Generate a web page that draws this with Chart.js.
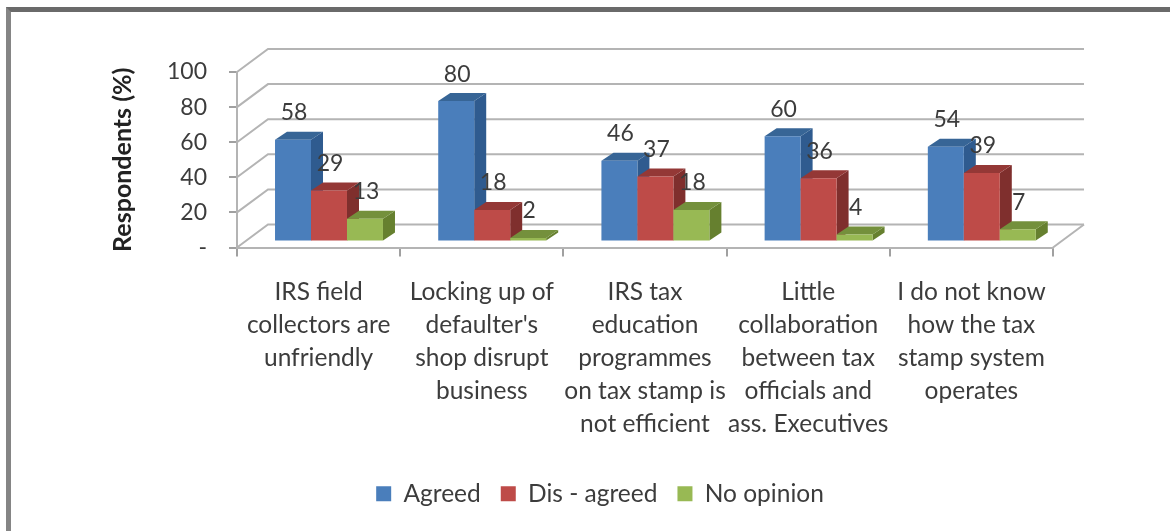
<!DOCTYPE html>
<html>
<head>
<meta charset="utf-8">
<style>
html,body{margin:0;padding:0;background:#fff;overflow:hidden}
#wrap{position:relative;width:1170px;height:531px}
#frame{position:absolute;left:6px;top:7px;right:-10px;bottom:-10px;border-top:5px solid #6a6a6a;border-left:5px solid #858585}
canvas{position:absolute;left:0;top:0;filter:blur(0.6px)}
</style>
<script src="https://cdn.jsdelivr.net/npm/chart.js@4"></script>
</head>
<body>
<div id="wrap"><div id="frame"></div><canvas id="c" width="1170" height="531"></canvas></div>
<script>
const categories = [
  ["IRS field","collectors are","unfriendly"],
  ["Locking up of","defaulter's","shop disrupt","business"],
  ["IRS tax","education","programmes","on tax stamp is","not efficient"],
  ["Little","collaboration","between tax","officials and","ass. Executives"],
  ["I do not know","how the tax","stamp system","operates"]
];
const agreed = [58, 80, 46, 60, 54];
const disagreed = [29, 18, 37, 36, 39];
const noOpinion = [13, 2, 18, 4, 7];
const yTicks = [0, 20, 40, 60, 80, 100];

const FONT = "Lato";
const TEXT = "#3c3c3c";
const GRID = "#b4b4b4";
const WALL = {dx: 31, dy: -23};
const SHIFT = {dx: 10.4, dy: -6};
const DEPTH = {dx: 12, dy: -8};
const FACES = [
  {side: "#2f5b8f", top: "#376596"},
  {side: "#7f2f2d", top: "#943836"},
  {side: "#66802f", top: "#74903c"}
];

const bar3d = {
  id: "bar3d",
  afterLayout(chart) {
    const lg = chart.legend;
    lg.left = 147; lg.right = 1053;
  },
  beforeDatasetsDraw(chart) {
    const ctx = chart.ctx, y = chart.scales.y, a = chart.chartArea;
    ctx.save();
    ctx.strokeStyle = GRID; ctx.lineWidth = 2;
    y.ticks.forEach(t => {
      const py = y.getPixelForValue(t.value);
      ctx.beginPath();
      ctx.moveTo(a.left, py);
      ctx.lineTo(a.left + WALL.dx, py + WALL.dy);
      ctx.lineTo(a.right + WALL.dx, py + WALL.dy);
      ctx.stroke();
    });
    ctx.beginPath();
    ctx.moveTo(a.right, a.bottom);
    ctx.lineTo(a.right + WALL.dx, a.bottom + WALL.dy);
    ctx.stroke();
    ctx.translate(SHIFT.dx, SHIFT.dy);
    chart.data.datasets.forEach((ds, i) => {
      const meta = chart.getDatasetMeta(i);
      meta.data.forEach(el => {
        const p = el.getProps(["x", "y", "base", "width"], true);
        const l = p.x - p.width / 2, r = p.x + p.width / 2;
        ctx.fillStyle = FACES[i].side;
        ctx.beginPath();
        ctx.moveTo(r, p.y);
        ctx.lineTo(r + DEPTH.dx, p.y + DEPTH.dy);
        ctx.lineTo(r + DEPTH.dx, p.base + DEPTH.dy);
        ctx.lineTo(r, p.base);
        ctx.closePath(); ctx.fill();
        ctx.fillStyle = FACES[i].top;
        ctx.beginPath();
        ctx.moveTo(l, p.y);
        ctx.lineTo(l + DEPTH.dx, p.y + DEPTH.dy);
        ctx.lineTo(r + DEPTH.dx, p.y + DEPTH.dy);
        ctx.lineTo(r, p.y);
        ctx.closePath(); ctx.fill();
        el.draw(ctx);
      });
    });
    ctx.fillStyle = TEXT;
    ctx.font = "23px " + FONT;
    ctx.textAlign = "center";
    ctx.textBaseline = "middle";
    chart.data.datasets.forEach((ds, i) => {
      chart.getDatasetMeta(i).data.forEach((el, j) => {
        ctx.fillText(String(ds.data[j]), el.x + 1, el.y - 27);
      });
    });
    ctx.restore();
    return false;
  }
};

new Chart(document.getElementById("c"), {
  type: "bar",
  data: {
    labels: categories,
    datasets: [
      {label: "Agreed", data: agreed, backgroundColor: "#4a7ebb"},
      {label: "Dis - agreed", data: disagreed, backgroundColor: "#be4b48"},
      {label: "No opinion", data: noOpinion, backgroundColor: "#98b954"}
    ]
  },
  plugins: [bar3d],
  options: {
    responsive: false,
    animation: false,
    events: [],
    layout: {padding: {top: 72, right: 117, bottom: 15, left: 0}},
    datasets: {bar: {categoryPercentage: 0.6615, barPercentage: 1, borderWidth: 0}},
    plugins: {
      tooltip: {enabled: false},
      title: {display: false},
      legend: {
        position: "bottom",
        labels: {
          boxWidth: 15, boxHeight: 15, padding: 20, color: TEXT,
          font: {family: FONT, size: 24.5}
        }
      }
    },
    scales: {
      x: {
        afterFit(s) { s.height = 214; },
        border: {display: true, color: GRID, width: 2},
        grid: {drawOnChartArea: false, drawTicks: true, tickLength: 9, color: "#a0a0a0", lineWidth: 2},
        ticks: {
          color: TEXT, maxRotation: 0, minRotation: 0, autoSkip: false, padding: 19,
          font: {family: FONT, size: 24.5, lineHeight: 1.35}
        }
      },
      y: {
        min: 0, max: 100,
        afterFit(s) { s.width = 237; },
        afterBuildTicks(s) { s.ticks = yTicks.map(v => ({value: v})); },
        border: {display: true, color: GRID, width: 2},
        grid: {drawOnChartArea: false, drawTicks: true, tickLength: 8, color: "#a0a0a0", lineWidth: 2},
        title: {
          display: true, text: "Respondents (%)", color: "#222",
          font: {family: FONT, size: 25, weight: "bold"}, padding: {top: 108, bottom: 0}
        },
        ticks: {
          color: TEXT, padding: 22,
          font: {family: FONT, size: 23},
          callback: v => v === 0 ? "-" : String(v)
        }
      }
    }
  }
});
</script>
</body>
</html>
